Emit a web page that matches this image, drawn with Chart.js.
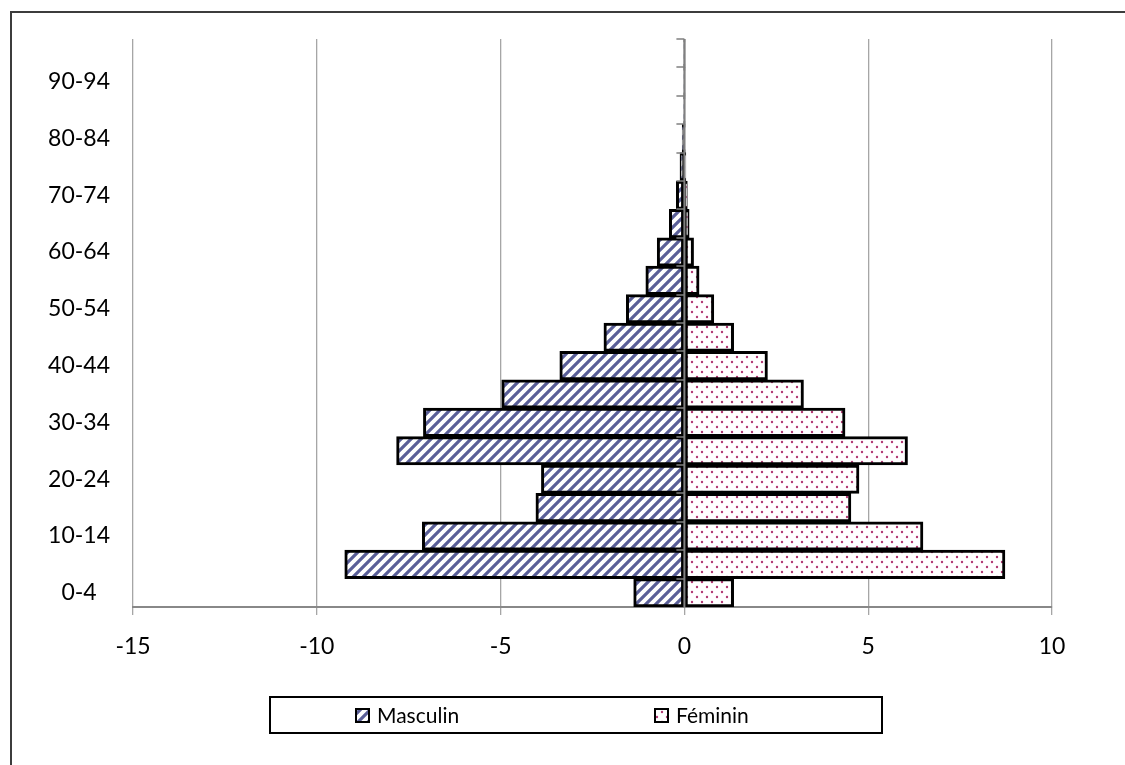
<!DOCTYPE html>
<html>
<head>
<meta charset="utf-8">
<title>Pyramide des âges</title>
<script src="https://cdn.jsdelivr.net/npm/chart.js@4.4.0/dist/chart.umd.min.js"></script>
<style>
  html, body { margin: 0; padding: 0; background: #fff; }
</style>
</head>
<body>
<canvas id="pyramid" width="1125" height="765"></canvas>
<script>
// age groups, bottom to top
const ageGroups = ["0-4", "5-9", "10-14", "15-19", "20-24", "25-29", "30-34", "35-39",
  "40-44", "45-49", "50-54", "55-59", "60-64", "65-69", "70-74", "75-79",
  "80-84", "85-89", "90-94", "95-99"];

// percentages (men on the negative side)
const masculin = [-1.38, -9.24, -7.13, -4.04, -3.89, -7.83, -7.10, -4.97,
  -3.39, -2.19, -1.58, -1.05, -0.74, -0.41, -0.22, -0.12,
  -0.06, -0.02, -0.01, -0.005];
const feminin = [1.34, 8.72, 6.49, 4.53, 4.75, 6.07, 4.37, 3.24,
  2.26, 1.34, 0.80, 0.40, 0.25, 0.13, 0.08, 0.04,
  0.02, 0.01, 0.005, 0.003];

const xMin = -15;
const xMax = 10;
const xStep = 5;

const FONT = "Lato, 'Open Sans', sans-serif";
const canvas = document.getElementById("pyramid");
const ctx = canvas.getContext("2d");

/* hatch fill for the men, dots for the women */
function stripePattern(color) {
  const s = 10;
  const c = document.createElement("canvas");
  c.width = s;
  c.height = s;
  const g = c.getContext("2d");
  g.fillStyle = "#fff";
  g.fillRect(0, 0, s, s);
  g.strokeStyle = color;
  g.lineWidth = 3.2;
  g.beginPath();
  g.moveTo(-2, s + 2); g.lineTo(s + 2, -2);
  g.moveTo(-2, 2); g.lineTo(2, -2);
  g.moveTo(s - 2, s + 2); g.lineTo(s + 2, s - 2);
  g.stroke();
  return ctx.createPattern(c, "repeat");
}

function dotPattern(color) {
  const s = 10;
  const c = document.createElement("canvas");
  c.width = s;
  c.height = s;
  const g = c.getContext("2d");
  g.fillStyle = "#fff";
  g.fillRect(0, 0, s, s);
  g.fillStyle = color;
  [[2, 2], [7, 7]].forEach(([x, y]) => {
    g.beginPath();
    g.arc(x, y, 1.2, 0, Math.PI * 2);
    g.fill();
  });
  return ctx.createPattern(c, "repeat");
}

const menFill = stripePattern("#5a5f98");
const womenFill = dotPattern("#b23a74");

/* white page + frame lines, vertical axis at 0, boxed legend */
const frame = {
  id: "frame",
  beforeDraw(chart) {
    const c = chart.ctx;
    c.save();
    c.fillStyle = "#fff";
    c.fillRect(0, 0, chart.width, chart.height);
    c.strokeStyle = "#3c3c3c";
    c.lineWidth = 2;
    c.beginPath();
    c.moveTo(11, chart.height);
    c.lineTo(11, 12);
    c.lineTo(chart.width, 12);
    c.stroke();
    c.restore();
  },
  afterDatasetsDraw(chart) {
    const c = chart.ctx;
    const xs = chart.scales.x;
    const ys = chart.scales.y;
    const x0 = xs.getPixelForValue(0);
    const band = Math.abs(ys.getPixelForValue(1) - ys.getPixelForValue(0));
    c.save();
    c.strokeStyle = "#808080";
    c.lineWidth = 2;
    c.beginPath();
    c.moveTo(x0, chart.chartArea.top);
    c.lineTo(x0, chart.chartArea.bottom);
    c.stroke();
    c.lineWidth = 1.5;
    c.beginPath();
    for (let i = 0; i < ageGroups.length; i++) {
      const y = Math.round(ys.getPixelForValue(i) - band / 2);
      c.moveTo(x0 - 8, y);
      c.lineTo(x0, y);
    }
    c.stroke();
    c.restore();
  },
  afterDraw(chart) {
    const c = chart.ctx;
    c.save();
    c.strokeStyle = "#000";
    c.lineWidth = 2;
    c.strokeRect(270, 697, 612, 36);
    c.font = "21px " + FONT;
    c.textBaseline = "middle";
    const itemX = [356, 655];
    chart.data.datasets.forEach((ds, i) => {
      c.fillStyle = ds.backgroundColor;
      c.fillRect(itemX[i], 709, 13, 13);
      c.lineWidth = 2;
      c.strokeStyle = "#000";
      c.strokeRect(itemX[i], 709, 13, 13);
      c.fillStyle = "#000";
      c.fillText(ds.label, itemX[i] + 21, 716);
    });
    c.restore();
  },
};

new Chart(ctx, {
  type: "bar",
  data: {
    labels: ageGroups,
    datasets: [
      {
        label: "Masculin",
        data: masculin,
        backgroundColor: menFill,
        borderColor: "#000",
        borderWidth: 3,
        borderSkipped: false,
        barPercentage: 1,
        categoryPercentage: 1,
      },
      {
        label: "Féminin",
        data: feminin,
        backgroundColor: womenFill,
        borderColor: "#000",
        borderWidth: 3,
        borderSkipped: false,
        barPercentage: 1,
        categoryPercentage: 1,
      },
    ],
  },
  options: {
    indexAxis: "y",
    responsive: false,
    animation: false,
    layout: {
      padding: { left: 11, top: 39, right: 73, bottom: 98 },
    },
    plugins: {
      legend: { display: false },
      tooltip: { enabled: false },
    },
    scales: {
      x: {
        stacked: true,
        min: xMin,
        max: xMax,
        ticks: {
          stepSize: xStep,
          padding: 18,
          color: "#000",
          font: { family: FONT, size: 23 },
        },
        grid: {
          color: "#a6a6a6",
          lineWidth: 1.3,
          tickLength: 8,
          drawTicks: true,
        },
        border: { display: true, color: "#888", width: 2 },
        afterFit(scale) {
          scale.height = 60;
        },
      },
      y: {
        stacked: true,
        reverse: true,
        grid: { display: false, drawTicks: false },
        border: { display: false },
        ticks: {
          autoSkip: false,
          padding: 23,
          crossAlign: "center",
          color: "#000",
          font: { family: FONT, size: 23 },
          callback: function (val, i) {
            return i % 2 === 0 ? this.getLabelForValue(val) : "";
          },
        },
        afterFit(scale) {
          scale.width = 122;
        },
      },
    },
  },
  plugins: [frame],
});
</script>
</body>
</html>
